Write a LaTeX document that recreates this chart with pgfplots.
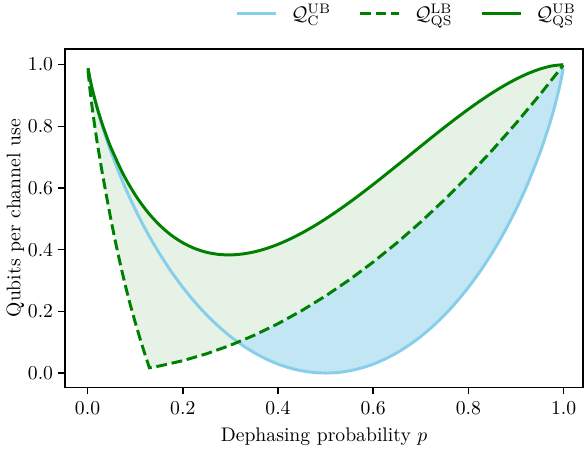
\documentclass[border=0pt]{standalone}
\usepackage{pgfplots}
\pgfplotsset{compat=1.18}
\usepgfplotslibrary{fillbetween}
\definecolor{skyblue}{RGB}{135,206,235}
\definecolor{mplgreen}{RGB}{0,128,0}

% Q_C^UB
\pgfplotstableread{
p q
0.001 0.9886
0.005 0.9546
0.01 0.9192
0.02 0.8586
0.03 0.8056
0.04 0.7577
0.05 0.7136
0.075 0.6157
0.1 0.5310
0.125 0.4564
0.15 0.3902
0.175 0.3308
0.2 0.2781
0.225 0.2308
0.25 0.1887
0.275 0.1515
0.3 0.1187
0.325 0.0903
0.35 0.0659
0.375 0.0456
0.4 0.0290
0.425 0.0163
0.45 0.0072
0.475 0.0018
0.5 0.0
0.525 0.0018
0.55 0.0072
0.575 0.0163
0.6 0.0290
0.625 0.0456
0.65 0.0659
0.675 0.0903
0.7 0.1187
0.725 0.1515
0.75 0.1887
0.775 0.2308
0.8 0.2781
0.825 0.3308
0.85 0.3902
0.875 0.4564
0.9 0.5310
0.925 0.6157
0.95 0.7136
0.96 0.7577
0.97 0.8056
0.98 0.8586
0.99 0.9192
0.995 0.9546
0.999 0.9886
}\qcub

% Q_QS^LB
\pgfplotstableread{
p q
0.001 0.980
0.005 0.920
0.01 0.857
0.015 0.802
0.02 0.750
0.03 0.657
0.04 0.572
0.05 0.490
0.06 0.415
0.07 0.345
0.08 0.280
0.09 0.220
0.1 0.165
0.11 0.113
0.12 0.063
0.13 0.017
0.15 0.0225
0.2 0.04
0.25 0.0625
0.3 0.09
0.35 0.1225
0.4 0.16
0.45 0.2025
0.5 0.25
0.55 0.3025
0.6 0.36
0.65 0.4225
0.7 0.49
0.75 0.5625
0.8 0.64
0.85 0.7225
0.9 0.81
0.95 0.9025
0.999 0.998
}\qslb

% Q_QS^UB
\pgfplotstableread{
p q
0.001 0.9886
0.005 0.9548
0.01 0.9200
0.02 0.8614
0.03 0.8114
0.04 0.7674
0.05 0.7279
0.075 0.6445
0.1 0.5779
0.125 0.5243
0.15 0.4817
0.175 0.4479
0.2 0.4225
0.225 0.4039
0.25 0.3915
0.275 0.3848
0.3 0.3831
0.325 0.3860
0.35 0.3928
0.375 0.4035
0.4 0.4174
0.425 0.4344
0.45 0.4540
0.475 0.4759
0.5 0.5000
0.525 0.5259
0.55 0.5532
0.575 0.5819
0.6 0.6116
0.625 0.6421
0.65 0.6731
0.675 0.7043
0.7 0.7356
0.725 0.7667
0.75 0.7972
0.775 0.8269
0.8 0.8556
0.825 0.8829
0.85 0.9085
0.875 0.9320
0.9 0.9531
0.925 0.9712
0.95 0.9857
0.975 0.9958
0.999 0.9999
}\qsub

\begin{document}
\begin{tikzpicture}
\begin{axis}[
  scale only axis, width=263.4pt, height=172.1pt,
  xmin=-0.0475, xmax=1.041, ymin=-0.047, ymax=1.051,
  xtick={0,0.2,0.4,0.6,0.8,1.0}, ytick={0,0.2,0.4,0.6,0.8,1.0},
  xticklabel style={/pgf/number format/.cd,fixed,fixed zerofill,precision=1},
  yticklabel style={xshift=1pt,/pgf/number format/.cd,fixed,fixed zerofill,precision=1},
  xtick pos=bottom, ytick pos=left, tick align=outside,
  major tick length=3.5pt,
  every tick/.style={black, line width=0.8pt},
  axis line style={line width=0.8pt},
  xlabel={Dephasing probability $p$},
  ylabel={Qubits per channel use},
  ylabel style={yshift=-5pt},
  legend columns=3,
  legend style={draw=none, fill=none, inner sep=0pt,
    at={(0.994,1.104)}, anchor=east,
    /tikz/every odd column/.append style={column sep=5pt},
    /tikz/column 2/.append style={column sep=12pt},
    /tikz/column 4/.append style={column sep=12pt}},
  legend image code/.code={\draw[#1] (0pt,0pt) -- (20pt,0pt);},
]
\addplot[draw=none, smooth, name path=C, forget plot] table {\qcub};
\addplot[draw=none, name path=L, forget plot] table {\qslb};
\addplot[draw=none, smooth, name path=S, forget plot] table {\qsub};
\addplot[fill=mplgreen, fill opacity=0.1, draw=none, forget plot] fill between[of=S and L];
\addplot[fill=skyblue, fill opacity=0.5, draw=none, forget plot] fill between[of=L and C, soft clip={domain=0.317:1}];

\addplot[skyblue, line width=1.5pt, smooth] table {\qcub};
\addlegendentry{$\mathcal{Q}_{\mathrm{C}}^{\mathrm{UB}}$}
\addplot[mplgreen, line width=1.5pt, dash pattern=on 5.5pt off 2.4pt] table {\qslb};
\addlegendentry{$\mathcal{Q}_{\mathrm{QS}}^{\mathrm{LB}}$}
\addplot[mplgreen, line width=1.5pt, smooth] table {\qsub};
\addlegendentry{$\mathcal{Q}_{\mathrm{QS}}^{\mathrm{UB}}$}
\end{axis}
\end{tikzpicture}
\end{document}
